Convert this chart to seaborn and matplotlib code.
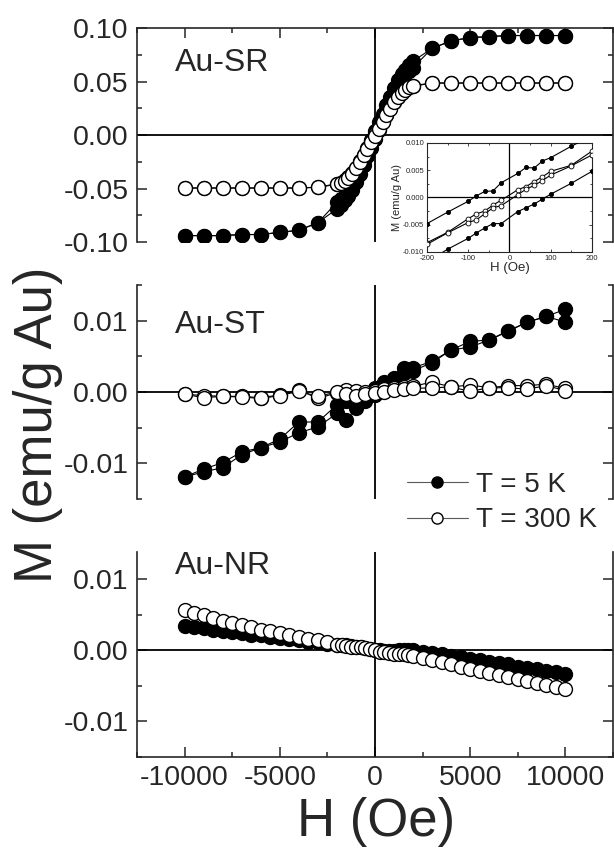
import matplotlib
matplotlib.use('Agg')
import matplotlib.pyplot as plt
import seaborn as sns
from matplotlib.ticker import MultipleLocator, FormatStrFormatter
from matplotlib.lines import Line2D

# ---- Au-SR (top panel), two branches per temperature ----
h_sr = [-10000, -9000, -8000, -7000, -6000, -5000, -4000, -3000,
        -2000, -1800, -1600, -1400, -1200, -1000, -800, -600, -400, -200, 0,
        200, 400, 600, 800, 1000, 1200, 1400, 1600, 1800, 2000,
        3000, 4000, 5000, 6000, 7000, 8000, 9000, 10000]
m_sr5_dn = [-0.094, -0.094, -0.094, -0.093, -0.093, -0.091, -0.089, -0.082,
            -0.063, -0.060, -0.057, -0.053, -0.046, -0.038, -0.030, -0.021, -0.013, -0.005, 0.004,
            0.012, 0.020, 0.028, 0.036, 0.044, 0.051, 0.057, 0.061, 0.065, 0.069,
            0.081, 0.088, 0.091, 0.092, 0.093, 0.093, 0.093, 0.093]
m_sr5_up = [-0.094, -0.094, -0.094, -0.093, -0.093, -0.091, -0.089, -0.082,
            -0.069, -0.065, -0.061, -0.057, -0.051, -0.044, -0.036, -0.028, -0.020, -0.012, -0.004,
            0.005, 0.013, 0.021, 0.030, 0.038, 0.046, 0.053, 0.057, 0.060, 0.063,
            0.081, 0.088, 0.091, 0.092, 0.093, 0.093, 0.093, 0.093]
m_sr300_dn = [-0.0495, -0.0495, -0.0495, -0.0495, -0.0495, -0.0495, -0.0495, -0.0488,
              -0.0455, -0.0445, -0.0425, -0.0395, -0.0355, -0.0305, -0.0245, -0.0185, -0.0120, -0.0055, 0.0005,
              0.0065, 0.0130, 0.0190, 0.0250, 0.0310, 0.0360, 0.0400, 0.0430, 0.0450, 0.0462,
              0.0486, 0.0486, 0.0486, 0.0486, 0.0486, 0.0486, 0.0486, 0.0486]
m_sr300_up = [-0.0495, -0.0495, -0.0495, -0.0495, -0.0495, -0.0495, -0.0495, -0.0488,
              -0.0462, -0.0450, -0.0430, -0.0400, -0.0360, -0.0310, -0.0250, -0.0190, -0.0130, -0.0065, -0.0005,
              0.0055, 0.0120, 0.0185, 0.0245, 0.0305, 0.0355, 0.0395, 0.0425, 0.0445, 0.0455,
              0.0486, 0.0486, 0.0486, 0.0486, 0.0486, 0.0486, 0.0486, 0.0486]

# ---- inset (low field loop of Au-SR) ----
h_in = [-200, -150, -100, -80, -60, -40, -20, 20, 40, 60, 80, 100, 150, 200]
m_in5_a = [-0.0048, -0.0027, -0.0007, 0.0003, 0.0011, 0.0012, 0.0027,
           0.0044, 0.0055, 0.0054, 0.0067, 0.0073, 0.0094, 0.0113]
m_in5_b = [-0.0118, -0.0095, -0.0075, -0.0065, -0.0056, -0.0048, -0.0048,
           -0.0026, -0.0019, -0.0012, -0.0003, 0.0006, 0.0026, 0.0048]
m_in300_a = [-0.0083, -0.0064, -0.0039, -0.0030, -0.0025, -0.0014, -0.0005,
             0.0014, 0.0020, 0.0029, 0.0038, 0.0048, 0.0059, 0.0085]
m_in300_b = [-0.0086, -0.0065, -0.0046, -0.0041, -0.0030, -0.0019, -0.0015,
             0.0005, 0.0015, 0.0022, 0.0031, 0.0041, 0.0058, 0.0078]

# ---- Au-ST (middle panel) ----
h_st = [-10000, -9000, -8000, -7000, -6000, -5000, -4000, -3000, -2000, -1500, -1000, -500, 0,
        500, 1000, 1500, 2000, 3000, 4000, 5000, 6000, 7000, 8000, 9000, 10000]
m_st5_a = [-0.0119, -0.0108, -0.0099, -0.0084, -0.0078, -0.0066, -0.0042, -0.0042, -0.0018,
           -0.0012, -0.0008, -0.0002, 0.0006, 0.0014, 0.0020, 0.0033, 0.0034, 0.0043, 0.0059,
           0.0071, 0.0073, 0.0086, 0.0098, 0.0106, 0.0116]
m_st5_b = [-0.0119, -0.0112, -0.0106, -0.0088, -0.0078, -0.0070, -0.0057, -0.0049, -0.0030,
           -0.0039, -0.0023, -0.0012, -0.0004, 0.0008, 0.0016, 0.0026, 0.0030, 0.0041, 0.0059,
           0.0063, 0.0073, 0.0085, 0.0098, 0.0106, 0.0098]
m_st300_a = [-0.0003, -0.0005, -0.0006, -0.0006, -0.0008, -0.0004, 0.0003, -0.0009, -0.0001,
             0.0003, 0.0001, 0.0000, 0.0002, 0.0004, 0.0006, 0.0007, 0.0008, 0.0014, 0.0007,
             0.0010, 0.0006, 0.0009, 0.0009, 0.0011, 0.0005]
m_st300_b = [-0.0003, -0.0008, -0.0006, -0.0007, -0.0009, -0.0005, 0.0001, -0.0006, 0.0000,
             -0.0003, -0.0005, -0.0003, -0.0002, 0.0000, 0.0003, 0.0004, 0.0005, 0.0006, 0.0007,
             0.0001, 0.0006, 0.0006, 0.0004, 0.0009, 0.0002]

# ---- Au-NR (bottom panel) ----
h_nr = [-10000, -9500, -9000, -8500, -8000, -7500, -7000, -6500, -6000, -5500, -5000, -4500,
        -4000, -3500, -3000, -2500,
        -2000, -1750, -1500, -1250, -1000, -750, -500, -250, 0, 250, 500, 750, 1000, 1250,
        1500, 1750, 2000,
        2500, 3000, 3500, 4000, 4500, 5000, 5500, 6000, 6500, 7000, 7500, 8000, 8500, 9000,
        9500, 10000]
m_nr5 = [0.0034, 0.0032, 0.0031, 0.0029, 0.0027, 0.0026, 0.0024, 0.0022, 0.0021, 0.0019,
         0.0017, 0.0016, 0.0014, 0.0012, 0.0011, 0.0009,
         0.0008, 0.0007, 0.0007, 0.0006, 0.0005, 0.0004, 0.0003, 0.0002, 0.0001, 0.0000,
         -0.0001, -0.0001, -0.0001, 0.0000, 0.0001, 0.0001, 0.0000,
         -0.0002, -0.0004, -0.0006, -0.0008, -0.0010, -0.0012, -0.0014, -0.0016, -0.0018,
         -0.0020, -0.0023, -0.0025, -0.0027, -0.0029, -0.0031, -0.0033]
m_nr300 = [0.0056, 0.0052, 0.0049, 0.0045, 0.0041, 0.0038, 0.0036, 0.0033, 0.0029, 0.0027,
           0.0024, 0.0022, 0.0019, 0.0016, 0.0014, 0.0011,
           0.0008, 0.0007, 0.0006, 0.0005, 0.0005, 0.0004, 0.0003, 0.0002, 0.0000, -0.0002,
           -0.0003, -0.0004, -0.0005, -0.0005, -0.0006, -0.0007, -0.0008,
           -0.0011, -0.0014, -0.0017, -0.0020, -0.0023, -0.0026, -0.0029, -0.0032, -0.0035,
           -0.0038, -0.0041, -0.0043, -0.0046, -0.0049, -0.0052, -0.0055]

sns.set_style('ticks')
plt.rcParams['font.family'] = ['Liberation Sans', 'DejaVu Sans']
plt.rcParams['axes.unicode_minus'] = False

fig = plt.figure(figsize=(6.14, 8.57), dpi=100)
ax1 = fig.add_axes([0.2231, 0.7176, 0.7752, 0.2497])
ax2 = fig.add_axes([0.2231, 0.4177, 0.7752, 0.2497])
ax3 = fig.add_axes([0.2231, 0.1167, 0.7752, 0.2392])


def curve(ax, h, m, filled, ms=10, mew=1.0, lw=0.8):
    sns.lineplot(x=h, y=m, ax=ax, sort=False, estimator=None, color='black', lw=lw,
                 marker='o', markersize=ms, markerfacecolor='black' if filled else 'white',
                 markeredgecolor='black', markeredgewidth=mew, legend=False, zorder=3)


curve(ax1, h_sr, m_sr5_dn, True)
curve(ax1, h_sr, m_sr5_up, True)
curve(ax1, h_sr, m_sr300_dn, False)
curve(ax1, h_sr, m_sr300_up, False)

curve(ax2, h_st, m_st5_a, True)
curve(ax2, h_st, m_st5_b, True)
curve(ax2, h_st, m_st300_a, False)
curve(ax2, h_st, m_st300_b, False)

curve(ax3, h_nr, m_nr5, True)
curve(ax3, h_nr, m_nr300, False)

ylims = [(-0.10, 0.10), (-0.015, 0.015), (-0.015, 0.0138)]
ymaj = [0.05, 0.01, 0.01]
names = ['Au-SR', 'Au-ST', 'Au-NR']
name_y = [0.836, 0.813, 0.93]

for i, ax in enumerate([ax1, ax2, ax3]):
    ax.axhline(0, color='black', lw=1.3, zorder=1)
    ax.axvline(0, color='black', lw=1.3, zorder=1)
    ax.set_xlim(-12500, 12500)
    ax.set_ylim(*ylims[i])
    ax.xaxis.set_major_locator(MultipleLocator(5000))
    ax.xaxis.set_minor_locator(MultipleLocator(2500))
    ax.yaxis.set_major_locator(MultipleLocator(ymaj[i]))
    ax.yaxis.set_minor_locator(MultipleLocator(ymaj[i] / 2))
    ax.yaxis.set_major_formatter(FormatStrFormatter('%.2f'))
    ax.set_xlabel('')
    ax.set_ylabel('')
    for s in ax.spines.values():
        s.set_linewidth(1.2)
    ax.spines['top'].set_visible(i == 0)
    ax.spines['bottom'].set_visible(i == 2)
    ax.tick_params(which='both', direction='in', left=True, right=True,
                   top=(i == 0), bottom=(i == 2), labelbottom=(i == 2),
                   labeltop=False, labelright=False, width=1.1)
    ax.tick_params(which='major', length=7, labelsize=20.5, pad=6)
    ax.tick_params(which='minor', length=3.5)
    ax.text(0.08, name_y[i], names[i], transform=ax.transAxes, fontsize=23,
            ha='left', va='center')

# legend in the middle panel
handles = [Line2D([0], [0], color='0.35', lw=0.8, marker='o', ms=8,
                  mfc='black', mec='black'),
           Line2D([0], [0], color='0.35', lw=0.8, marker='o', ms=8,
                  mfc='white', mec='black')]
ax2.legend(handles, ['T = 5 K', 'T = 300 K'], loc='upper left',
           bbox_to_anchor=(0.567, 0.128), frameon=False, fontsize=20,
           handlelength=2.2, handletextpad=0.3, labelspacing=0.35,
           borderpad=0, borderaxespad=0)

# inset
axi = fig.add_axes([0.6954, 0.7060, 0.2687, 0.1272])
axi.set_facecolor('white')
curve(axi, h_in, m_in5_a, True, ms=3, mew=0.6, lw=0.8)
curve(axi, h_in, m_in5_b, True, ms=3, mew=0.6, lw=0.8)
curve(axi, h_in, m_in300_a, False, ms=3.5, mew=0.6, lw=0.8)
curve(axi, h_in, m_in300_b, False, ms=3.5, mew=0.6, lw=0.8)
axi.axhline(0, color='black', lw=0.9, zorder=1)
axi.axvline(0, color='black', lw=0.9, zorder=1)
axi.set_xlim(-200, 200)
axi.set_ylim(-0.010, 0.010)
axi.xaxis.set_major_locator(MultipleLocator(100))
axi.xaxis.set_minor_locator(MultipleLocator(50))
axi.yaxis.set_major_locator(MultipleLocator(0.005))
axi.yaxis.set_minor_locator(MultipleLocator(0.0025))
axi.yaxis.set_major_formatter(FormatStrFormatter('%.3f'))
for s in axi.spines.values():
    s.set_linewidth(0.8)
axi.tick_params(which='both', direction='in', top=True, right=True, width=0.6)
axi.tick_params(which='major', length=2.5, labelsize=5.5)
axi.tick_params(axis='x', which='major', pad=2.5)
axi.tick_params(axis='y', which='major', pad=2)
axi.tick_params(which='minor', length=1.5)
axi.set_xlabel('H (Oe)', fontsize=9.5, labelpad=0)
axi.set_ylabel('M (emu/g Au)', fontsize=8, labelpad=1)

fig.text(38 / 614, 1 - 425 / 857, 'M (emu/g Au)', rotation=90, fontsize=38,
         ha='center', va='center')
fig.text(376 / 614, 1 - 822 / 857, 'H (Oe)', fontsize=38, ha='center', va='center')

fig.savefig('out.png', dpi=100)
